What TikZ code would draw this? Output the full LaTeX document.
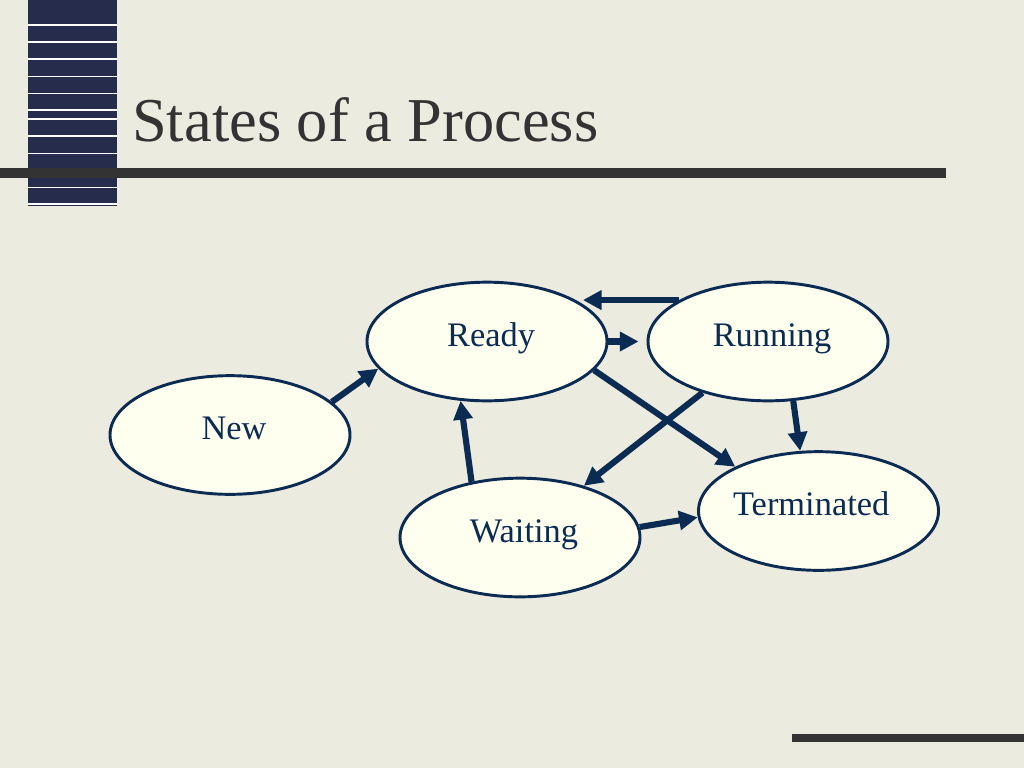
\documentclass[tikz,border=0pt]{standalone}
\usepackage{fontspec}
\setmainfont{Liberation Serif}
\usetikzlibrary{shapes.geometric,arrows.meta}
\definecolor{slidebg}{HTML}{EBEBE0}
\definecolor{navy}{HTML}{0B2B52}
\definecolor{bandblue}{HTML}{262C4C}
\definecolor{rule}{HTML}{333333}
\definecolor{cream}{HTML}{FFFFF0}

\begin{document}
\begin{tikzpicture}[x=0.75pt,y=-0.75pt,
	state/.style={ellipse,draw=navy,line width=2.2pt,fill=cream,
		minimum width=180pt,minimum height=89pt,inner sep=0pt,
		text=navy,font=\fontsize{25.8}{30}\selectfont,
		text height=12pt,text depth=5.2pt,
		execute at begin node=\hspace*{6pt}},
	trans/.style={draw=navy,line width=4.6pt,
		-{Triangle[length=14pt,width=14pt]}},]

\fill[slidebg] (0,0) rectangle (1024,768);
\useasboundingbox (0,0) rectangle (1024,768);

% side band
\fill[bandblue] (28,0) rectangle (117,206);
\foreach \y in {25,42,59,76.5,93.5,110,119,136,153.5,187.5,204}
    \draw[white,line width=0.9pt] (28,\y) -- (117,\y);

\fill[rule] (0,168) rectangle (946,178);
\fill[rule] (792,734) rectangle (1024,742);

\node[anchor=base west,text=rule,font=\fontsize{46.8}{56}\selectfont,inner sep=0pt]
    (title) at (132,141.5) {States of a Process};

\node[state] (Ready)   at (487,341.5) {Ready};
\node[state] (Running) at (768,341.5) {Running};
\node[state] (New)     at (230,435)   {New};
\node[state] (Waiting) at (520,537.5) {Waiting};
\node[state] (Term)    at (818.5,511) {\hspace*{-17pt}Terminated};

\draw[trans] (New.18) -- (Ready.194);
\draw[trans,shorten >=6pt] (Ready.east) -- (Running.west);
\draw[trans,shorten >=7.5pt] (Running.155) -- (Running.155 -| Ready.north east);
\draw[trans] (Ready.-15) -- (Term.152);
\draw[trans] (Running.218) -- (Waiting.39);
\draw[trans] (Running.-67) -- (Term.107);
\draw[trans] (Waiting.131) -- (Ready.246);
\draw[trans] (Waiting.5) -- (Term.183);
\end{tikzpicture}
\end{document}
